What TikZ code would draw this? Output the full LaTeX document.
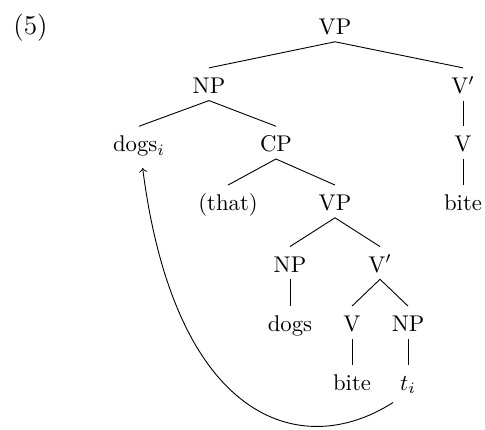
\documentclass[tikz,border=0pt]{standalone}
\usepackage{tikz}

\tikzset{lbl/.style={anchor=base,inner sep=3pt,text height=8pt,text depth=0pt}}

\begin{document}
\begin{tikzpicture}[x=.44pt,y=-.44pt]
          \useasboundingbox (0,0) rectangle (485,429);

          \node[anchor=base,font=\large] (ex) at (30.5,34.5) {(5)};

          \node[lbl] (vp1) at (335,34.5) {VP};
          \node[lbl] (np1) at (209,93.3) {NP};
          \node[lbl] (vbar1) at (463,93.3) {V$'$};
          \node[lbl] (dogsi) at (139,151.7) {dogs$_i$};
          \node[lbl] (cp) at (276,151.7) {CP};
          \node[lbl] (v1) at (463,151.7) {V};
          \node[lbl] (that) at (228,210.5) {(that)};
          \node[lbl] (vp2) at (335,210.5) {VP};
          \node[lbl] (bite1) at (463,210.5) {bite};
          \node[lbl] (np2) at (290,272) {NP};
          \node[lbl] (vbar2) at (380,272) {V$'$};
          \node[lbl] (dogs) at (290,331.5) {dogs};
          \node[lbl] (v2) at (352,331.5) {V};
          \node[lbl] (np3) at (408,331.5) {NP};
          \node[lbl] (bite2) at (352,390) {bite};
          \node[lbl] (ti) at (408,390) {$t_i$};

          \foreach \a/\b in {vp1/np1, vp1/vbar1, np1/dogsi, np1/cp, vbar1/v1, v1/bite1,
                             cp/that, cp/vp2, vp2/np2, vp2/vbar2, np2/dogs, vbar2/v2,
                             vbar2/np3, v2/bite2, np3/ti}
            \draw (\a.south) -- (\b.north);

          \draw[->] ([xshift=-6.6pt,yshift=-2.3pt]ti.south) .. controls (300,462) and (175,420) .. ([xshift=1.6pt,yshift=-4pt]dogsi.south);
        \end{tikzpicture}
\end{document}
